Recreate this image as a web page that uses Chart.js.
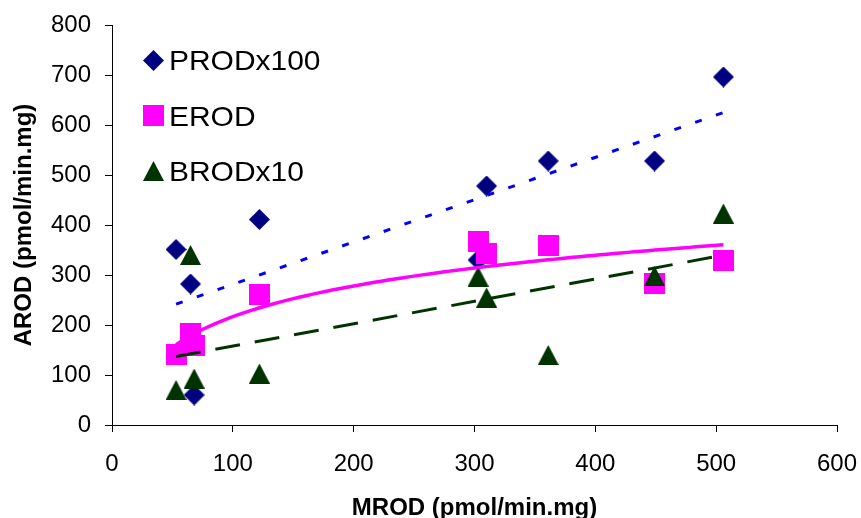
<!DOCTYPE html>
<html lang="en">
<head>
<meta charset="UTF-8">
<title>AROD x MROD</title>
<script src="https://cdn.jsdelivr.net/npm/chart.js"></script>
<style>
  html, body { margin: 0; padding: 0; background: #fff; }
</style>
</head>
<body>
<canvas id="grafico" width="861" height="518"></canvas>
<script>
// MROD of each sample (x axis)
const mrod = [53, 65, 68, 122, 303, 310, 361, 449, 506];
// AROD of the same samples, one list per substrate
const prodx100 = [351, 282, 60, 411, 330, 478, 528, 528, 696];
const erod = [141, 183, 159, 262, 368, 344, 359, 283, 329];
const brodx10 = [70, 340, 93, 103, 297, 255, 140, 298, 423];

const nomes = ['PRODx100', 'EROD', 'BRODx10'];
const xTicks = [0, 100, 200, 300, 400, 500, 600];
const yTicks = [0, 100, 200, 300, 400, 500, 600, 700, 800];

const fonte = '"Liberation Sans", Arial, sans-serif';
Chart.defaults.font.family = fonte;
Chart.defaults.color = '#000';

// excel style markers, centred on their bounding box
function marcador(forma, cor, w, h) {
  const c = document.createElement('canvas');
  c.width = w; c.height = h;
  const g = c.getContext('2d');
  g.fillStyle = cor;
  g.beginPath();
  if (forma === 'diamante') {
    g.moveTo(w / 2, 0); g.lineTo(w, h / 2); g.lineTo(w / 2, h); g.lineTo(0, h / 2);
  } else if (forma === 'triangulo') {
    g.moveTo(w / 2, 0); g.lineTo(w, h); g.lineTo(0, h);
  } else {
    g.rect(0, 0, w, h);
  }
  g.closePath();
  g.fill();
  return c;
}

// least squares trendlines (linear and logarithmic), like the spreadsheet does
function ajuste(xs, ys, log) {
  const tx = xs.map(v => log ? Math.log(v) : v);
  const n = tx.length;
  const mx = tx.reduce((a, b) => a + b, 0) / n;
  const my = ys.reduce((a, b) => a + b, 0) / n;
  let sxy = 0, sxx = 0;
  for (let i = 0; i < n; i++) {
    sxy += (tx[i] - mx) * (ys[i] - my);
    sxx += (tx[i] - mx) * (tx[i] - mx);
  }
  const b = sxy / sxx;
  const a = my - b * mx;
  return x => a + b * (log ? Math.log(x) : x);
}

function tendencia(xs, ys, log) {
  const f = ajuste(xs, ys, log);
  const x0 = Math.min(...xs), x1 = Math.max(...xs);
  const passos = log ? 80 : 1;
  const pts = [];
  for (let i = 0; i <= passos; i++) {
    const x = x0 + (x1 - x0) * i / passos;
    pts.push({ x: x, y: f(x) });
  }
  return pts;
}

function pontos(ys) {
  return mrod.map((x, i) => ({ x: x, y: ys[i] }));
}

const dados = {
  datasets: [
    { label: nomes[0], data: pontos(prodx100), pointStyle: marcador('diamante', '#000080', 21, 21), pointRadius: 10, order: 5 },
    { label: nomes[1], data: pontos(erod), pointStyle: marcador('quadrado', '#FF00FF', 21, 21), pointRadius: 10, order: 4 },
    { label: nomes[2], data: pontos(brodx10), pointStyle: marcador('triangulo', '#003300', 21, 20), pointRadius: 10, order: 3 },
    { label: 'tend PROD', data: tendencia(mrod, prodx100, false), showLine: true, pointRadius: 0,
      borderColor: '#0000FF', borderWidth: 3, borderDash: [7, 15], order: 2 },
    { label: 'tend EROD', data: tendencia(mrod, erod, true), showLine: true, pointRadius: 0,
      borderColor: '#FF00FF', borderWidth: 3.5, order: 1 },
    { label: 'tend BROD', data: tendencia(mrod, brodx10, false), showLine: true, pointRadius: 0,
      borderColor: '#003300', borderWidth: 3, borderDash: [25, 15], order: 0 }
  ]
};

// legend sits inside the plot, top left (text a bit wider, as in the original)
const legendaInterna = {
  id: 'legendaInterna',
  afterDraw(chart) {
    const ctx = chart.ctx;
    ctx.save();
    ctx.font = '28px ' + fonte;
    ctx.fillStyle = '#000';
    ctx.textBaseline = 'alphabetic';
    for (let i = 0; i < 3; i++) {
      const ds = chart.data.datasets[i];
      const y = 60 + i * 55.5;
      const img = ds.pointStyle;
      ctx.drawImage(img, Math.round(153 - img.width / 2), Math.round(y - img.height / 2));
      ctx.save();
      ctx.translate(169, y + 10);
      ctx.scale(1.07, 1);
      ctx.fillText(ds.label, 0, 0);
      ctx.restore();
    }
    ctx.restore();
  }
};

const config = {
  type: 'scatter',
  data: dados,
  options: {
    responsive: false,
    animation: false,
    layout: { padding: { top: 25, right: 24, left: 0, bottom: 0 } },
    plugins: { legend: { display: false }, tooltip: { enabled: false } },
    scales: {
      x: {
        type: 'linear',
        min: xTicks[0],
        max: xTicks[xTicks.length - 1],
        ticks: { stepSize: xTicks[1] - xTicks[0], color: '#000', font: { size: 24 }, padding: 18, maxRotation: 0 },
        grid: { drawOnChartArea: false, tickLength: 7, color: '#000' },
        border: { color: '#000', width: 1 },
        title: {
          display: true, text: 'MROD (pmol/min.mg)', color: '#000',
          font: { size: 24, weight: 'bold', lineHeight: 1 }, padding: { top: 0, bottom: -2 }
        },
        afterFit(s) { s.height = 93; s.paddingLeft = 0; s.paddingRight = 0; }
      },
      y: {
        type: 'linear',
        min: yTicks[0],
        max: yTicks[yTicks.length - 1],
        ticks: { stepSize: yTicks[1] - yTicks[0], color: '#000', font: { size: 24 }, padding: 14 },
        grid: { drawOnChartArea: false, tickLength: 7, color: '#000' },
        border: { color: '#000', width: 1 },
        title: {
          display: true, text: 'AROD (pmol/min.mg)', color: '#000',
          font: { size: 24, weight: 'bold', lineHeight: 1 }, padding: { top: 12, bottom: 0 }
        },
        afterFit(s) { s.width = 112; s.paddingTop = 0; s.paddingBottom = 0; }
      }
    }
  },
  plugins: [legendaInterna]
};

new Chart(document.getElementById('grafico'), config);
</script>
</body>
</html>
